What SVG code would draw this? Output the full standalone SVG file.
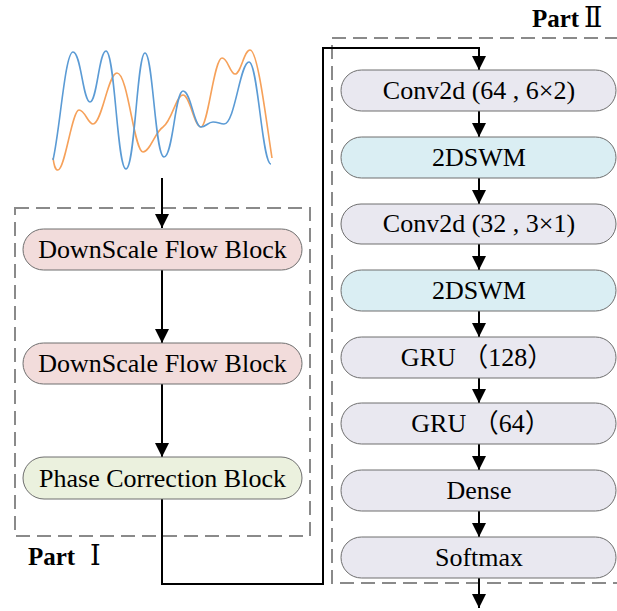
<svg xmlns="http://www.w3.org/2000/svg" width="617" height="611" viewBox="0 0 617 611">
  <style>
    .node { stroke: #6e6e6e; stroke-width: 1; }
    .pink { fill: #f2dcdb; }
    .green { fill: #ebf1de; }
    .gray { fill: #e9e8f0; }
    .blue { fill: #daeef3; }
    .label { font-family: "Liberation Serif", "Noto Sans CJK SC", serif; font-size: 26px; fill: #000; text-anchor: middle; }
    .part { font-family: "Liberation Serif", "DejaVu Serif", "Noto Sans CJK SC", serif; font-size: 25px; font-weight: bold; fill: #000; }
    .numeral { font-family: "DejaVu Serif", "Liberation Serif", "Noto Sans CJK SC", serif; font-weight: normal; font-size: 27px; }
    .frame { fill: none; stroke: #8a8a8a; stroke-width: 2; stroke-dasharray: 14 7; }
    .link { fill: none; stroke: #000; stroke-width: 2; }
  </style>
  <defs>
    <marker id="arrow" markerUnits="userSpaceOnUse" markerWidth="14" markerHeight="15" refX="14" refY="7" orient="auto">
      <path d="M0,0 L14,7 L0,14 Z" fill="#000"/>
    </marker>
  </defs>

  <rect width="617" height="611" fill="#fff"/>

  <!-- input signal -->
  <g id="signal" fill="none" stroke-width="1.6">
    <path stroke="#f6a15a" d="M53,158 C54,165 55,170 58,170 C65,170 72,110 79,110 C85,110 88,124 93,124 C102,124 108,73 117,73 C128,73 134,152 143,152 C150,152 155,132 163,127 C172,121 176,95 183,95 C190,95 194,127 201,127 C208,127 214,58 222,58 C228,58 230,74 235,74 C241,74 244,50 250,50 C258,50 266,120 272,158"/>
    <path stroke="#5b9bd5" d="M53,160 C60,130 65,52 73,52 C81,52 83,102 90,102 C97,102 99,51 106,51 C115,51 117,169 126,169 C135,169 137,53 145,53 C153,53 155,157 164,157 C173,157 175,91 183,91 C191,91 194,127 201,127 C206,127 208,122 213,122 C218,122 220,124 224,124 C235,124 240,62 249,62 C258,62 262,164 271,164"/>
  </g>

  <!-- part frames -->
  <g id="part1">
    <rect class="frame" x="15" y="208" width="295" height="328"/>
    <text class="part" x="28" y="565">Part <tspan class="numeral" x="90">Ⅰ</tspan></text>
  </g>
  <g id="part2">
    <path class="frame" d="M640,38 H332 V583 H640"/>
    <text class="part" x="532" y="27">Part <tspan class="numeral" x="584">Ⅱ</tspan></text>
  </g>

  <!-- connectors -->
  <g id="connectors">
    <path class="link" d="M162,178 V228" marker-end="url(#arrow)"/>
    <path class="link" d="M162,270 V343" marker-end="url(#arrow)"/>
    <path class="link" d="M162,384 V457" marker-end="url(#arrow)"/>
    <path class="link" d="M162,499 V584 H323 V48 H479 V70" marker-end="url(#arrow)"/>
    <path class="link" d="M479,111 V137" marker-end="url(#arrow)"/>
    <path class="link" d="M479,178 V204" marker-end="url(#arrow)"/>
    <path class="link" d="M479,244 V270" marker-end="url(#arrow)"/>
    <path class="link" d="M479,311 V337" marker-end="url(#arrow)"/>
    <path class="link" d="M479,378 V403" marker-end="url(#arrow)"/>
    <path class="link" d="M479,444 V470" marker-end="url(#arrow)"/>
    <path class="link" d="M479,511 V537" marker-end="url(#arrow)"/>
    <path class="link" d="M479,578 V608" marker-end="url(#arrow)"/>
  </g>

  <!-- Part I blocks -->
  <g id="downscale1">
    <rect class="node pink" x="23" y="229" width="279" height="41" rx="20.5"/>
    <text class="label" x="162.5" y="258">DownScale Flow Block</text>
  </g>
  <g id="downscale2">
    <rect class="node pink" x="23" y="343" width="279" height="41" rx="20.5"/>
    <text class="label" x="162.5" y="372">DownScale Flow Block</text>
  </g>
  <g id="phase">
    <rect class="node green" x="23" y="457" width="279" height="42" rx="21"/>
    <text class="label" x="162.5" y="487">Phase Correction Block</text>
  </g>

  <!-- Part II layers -->
  <g id="conv1">
    <rect class="node gray" x="341" y="70" width="275" height="41" rx="20.5"/>
    <text class="label" x="479" y="99">Conv2d (64 , 6×2)</text>
  </g>
  <g id="swm1">
    <rect class="node blue" x="341" y="137" width="275" height="41" rx="20.5"/>
    <text class="label" x="479" y="166">2DSWM</text>
  </g>
  <g id="conv2">
    <rect class="node gray" x="341" y="204" width="275" height="40" rx="20"/>
    <text class="label" x="479" y="232">Conv2d (32 , 3×1)</text>
  </g>
  <g id="swm2">
    <rect class="node blue" x="341" y="270" width="275" height="41" rx="20.5"/>
    <text class="label" x="479" y="299">2DSWM</text>
  </g>
  <g id="gru1">
    <rect class="node gray" x="341" y="337" width="275" height="41" rx="20.5"/>
    <text class="label" x="477" y="366">GRU （128）</text>
  </g>
  <g id="gru2">
    <rect class="node gray" x="341" y="403" width="275" height="41" rx="20.5"/>
    <text class="label" x="481" y="432">GRU （64）</text>
  </g>
  <g id="dense">
    <rect class="node gray" x="341" y="470" width="275" height="41" rx="20.5"/>
    <text class="label" x="479" y="499">Dense</text>
  </g>
  <g id="softmax">
    <rect class="node gray" x="341" y="537" width="275" height="41" rx="20.5"/>
    <text class="label" x="479" y="566">Softmax</text>
  </g>
</svg>
